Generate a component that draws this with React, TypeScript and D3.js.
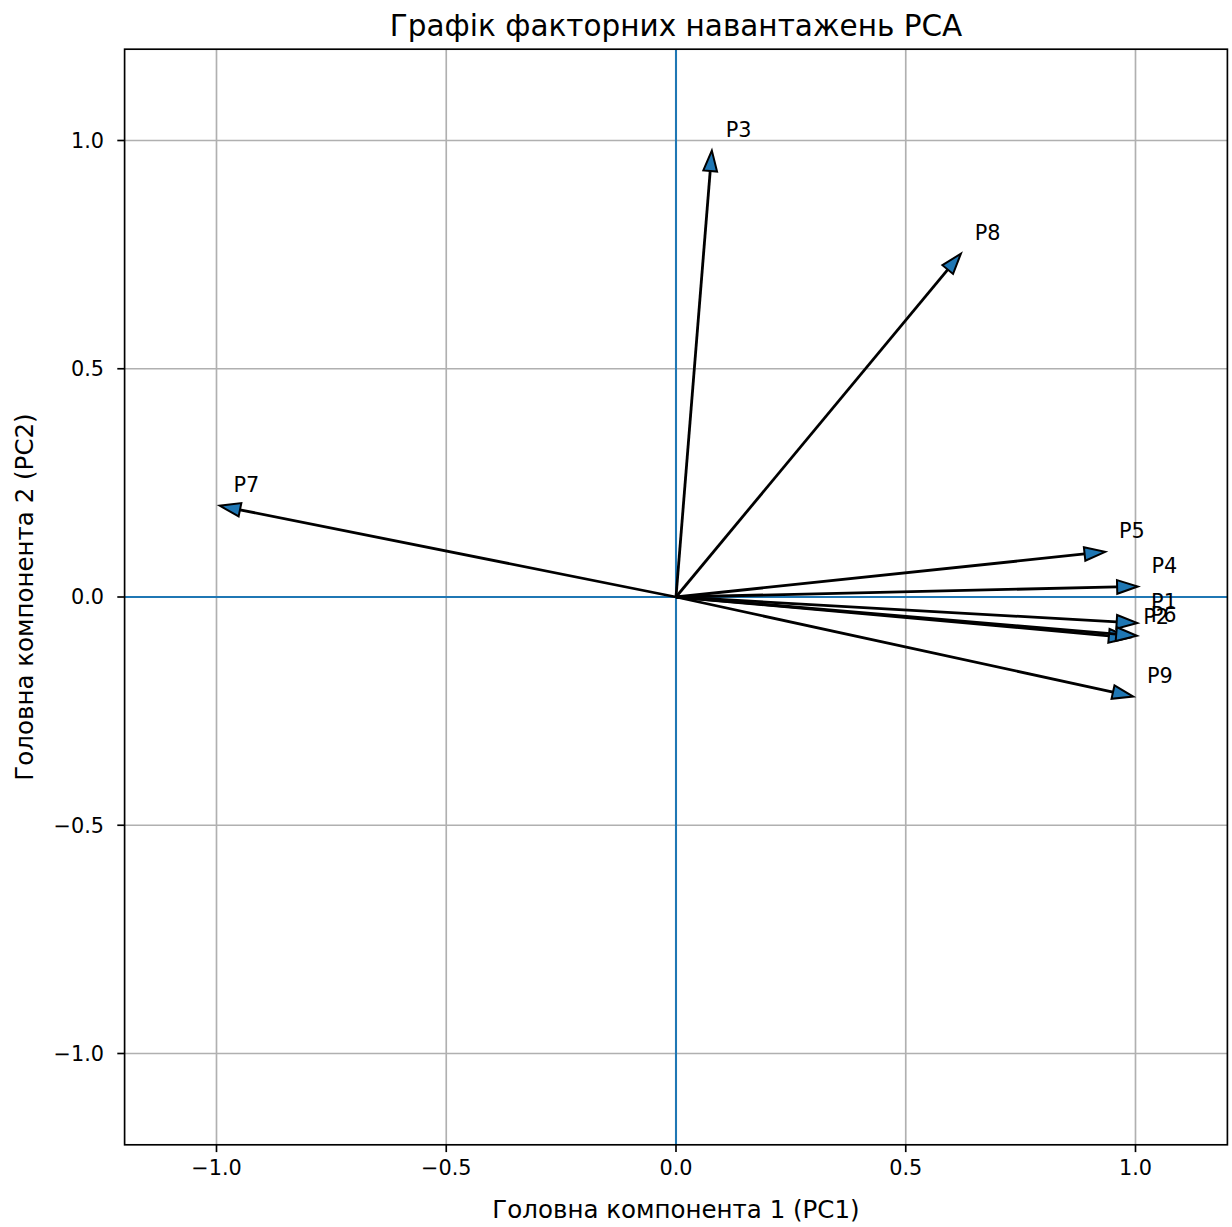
import React from "react";
import * as d3 from "d3";

const names = ["P1", "P2", "P3", "P4", "P5", "P6", "P7", "P8", "P9"];
const pc1 = [1.004, 0.987, 0.078, 1.005, 0.934, 1.003, -0.993, 0.62, 0.995];
const pc2 = [-0.057, -0.089, 0.978, 0.023, 0.099, -0.085, 0.2, 0.752, -0.218];
const ticks = [-1.0, -0.5, 0.0, 0.5, 1.0];
const tickLabels = ["−1.0", "−0.5", "0.0", "0.5", "1.0"];
const title = "Графік факторних навантажень PCA";
const xLabel = "Головна компонента 1 (PC1)";
const yLabel = "Головна компонента 2 (PC2)";

const W = 1232;
const H = 1227;
const L = 124.6, R = 1227.4, T = 49.2, B = 1144.8;
const FS = 20.8;
const LFS = 24.5;
const TFS = 29.5;
const FONT = "DejaVu Sans, sans-serif";
const C0 = "#1f77b4";

export default function App() {
  const x = d3.scaleLinear().domain([-1.2, 1.2]).range([L, R]);
  const y = d3.scaleLinear().domain([-1.2, 1.2]).range([B, T]);
  const headW = 0.03;
  const headL = 0.045;
  const labelOff = 0.03;

  const arrows = names.map((n, i) => {
    const tx = pc1[i], ty = pc2[i];
    const len = Math.hypot(tx, ty);
    const ux = tx / len, uy = ty / len;
    const bx = tx - ux * headL, by = ty - uy * headL;
    const px = -uy, py = ux;
    const p1 = [x(bx + px * headW / 2), y(by + py * headW / 2)];
    const p2 = [x(bx - px * headW / 2), y(by - py * headW / 2)];
    const tip = [x(tx), y(ty)];
    return { n, tx, ty, bx, by, p1, p2, tip };
  });

  return (
    <svg width={W} height={H} style={{ position: "absolute", left: 0, top: 0, background: "#fff" }} fontFamily={FONT}>
      <rect x={0} y={0} width={W} height={H} fill="#fff" />
      {ticks.map((t, i) => (
        <g key={"g" + i}>
          <line x1={x(t)} x2={x(t)} y1={T} y2={B} stroke="#b0b0b0" strokeWidth={1.67} />
          <line x1={L} x2={R} y1={y(t)} y2={y(t)} stroke="#b0b0b0" strokeWidth={1.67} />
        </g>
      ))}
      <line x1={L} x2={R} y1={y(0)} y2={y(0)} stroke={C0} strokeWidth={2.08} />
      <line x1={x(0)} x2={x(0)} y1={T} y2={B} stroke={C0} strokeWidth={2.08} />
      {arrows.map((a) => (
        <g key={a.n}>
          <line x1={x(0)} y1={y(0)} x2={x(a.bx)} y2={y(a.by)} stroke="#000" strokeWidth={2.8} />
          <polygon
            points={[a.p1, a.tip, a.p2].map((p) => p.join(",")).join(" ")}
            fill={C0}
            stroke="#000"
            strokeWidth={2}
            strokeLinejoin="miter"
          />
        </g>
      ))}
      {arrows.map((a) => (
        <text key={"t" + a.n} x={x(a.tx + labelOff)} y={y(a.ty + labelOff)} fontSize={FS} fill="#000">
          {a.n}
        </text>
      ))}
      <rect x={L} y={T} width={R - L} height={B - T} fill="none" stroke="#000" strokeWidth={1.67} />
      {ticks.map((t, i) => (
        <g key={"tk" + i}>
          <line x1={x(t)} x2={x(t)} y1={B} y2={B + 7.3} stroke="#000" strokeWidth={1.67} />
          <text x={x(t)} y={B + 7.3 + 7.3 + FS * 0.76} textAnchor="middle" fontSize={FS} fill="#000">
            {tickLabels[i]}
          </text>
          <line x1={L - 7.3} x2={L} y1={y(t)} y2={y(t)} stroke="#000" strokeWidth={1.67} />
          <text x={104} y={y(t)} dy="0.36em" textAnchor="end" fontSize={FS} fill="#000">
            {tickLabels[i]}
          </text>
        </g>
      ))}
      <text x={(L + R) / 2} y={36} textAnchor="middle" fontSize={TFS} fill="#000">
        {title}
      </text>
      <text x={(L + R) / 2} y={1218} textAnchor="middle" fontSize={LFS} fill="#000">
        {xLabel}
      </text>
      <text transform={`translate(33, ${(T + B) / 2}) rotate(-90)`} textAnchor="middle" fontSize={LFS} fill="#000">
        {yLabel}
      </text>
    </svg>
  );
}
